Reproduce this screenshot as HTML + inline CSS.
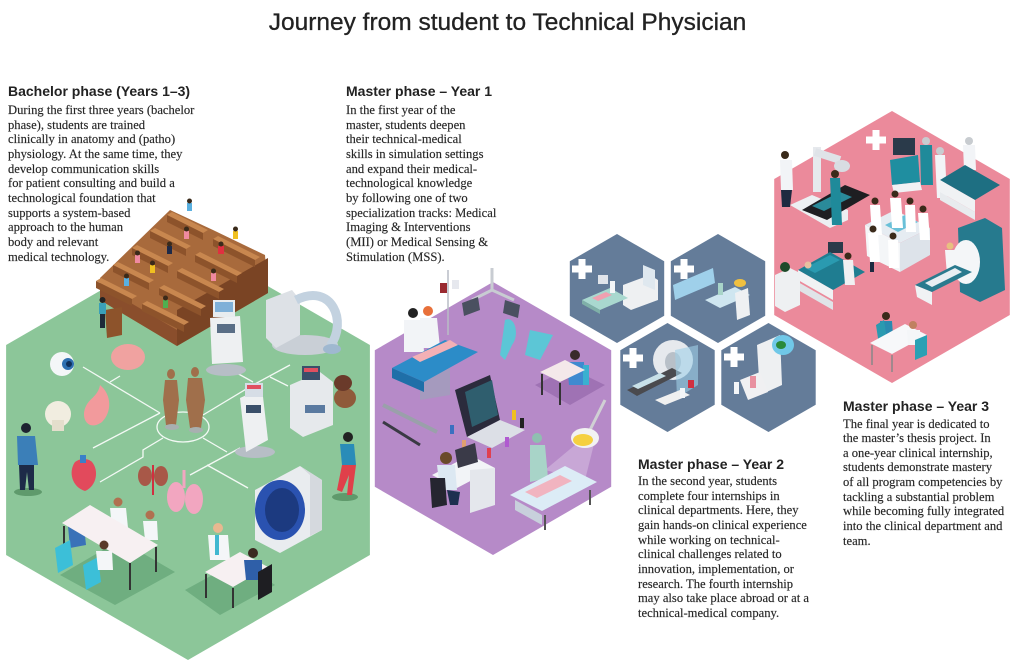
<!DOCTYPE html>
<html><head><meta charset="utf-8">
<style>
html,body{margin:0;padding:0;background:#fff;}
body{width:1024px;height:661px;position:relative;overflow:hidden;}
svg{position:absolute;left:0;top:0;}
.t{position:absolute;white-space:nowrap;}
.title{font-family:"Liberation Sans",sans-serif;font-size:24.5px;line-height:28px;color:#222;left:0;width:1015px;text-align:center;top:9px;-webkit-text-stroke:0.3px #222;}
.h{font-family:"Liberation Sans",sans-serif;font-weight:bold;font-size:14px;line-height:16px;color:#222;}
.p{font-family:"Liberation Serif",serif;font-size:12.6px;line-height:14.65px;color:#262626;-webkit-text-stroke:0.15px #262626;}
</style></head><body>
<svg width="1024" height="661" viewBox="0 0 1024 661" xmlns="http://www.w3.org/2000/svg">
<!-- hexagons -->
<polygon points="188,240 369.9,345 369.9,555 188,660 6.1,555 6.1,345" fill="#8cc699"/>
<polygon points="493,282 611.2,350.25 611.2,486.75 493,555 374.8,486.75 374.8,350.25" fill="#b68ac8"/>
<polygon points="617,234 664.2,261.25 664.2,315.75 617,343 569.8,315.75 569.8,261.25" fill="#647c99"/>
<polygon points="718,234 765.2,261.25 765.2,315.75 718,343 670.8,315.75 670.8,261.25" fill="#647c99"/>
<polygon points="667.5,323 714.7,350.25 714.7,404.75 667.5,432 620.3,404.75 620.3,350.25" fill="#647c99"/>
<polygon points="768.5,323 815.7,350.25 815.7,404.75 768.5,432 721.3,404.75 721.3,350.25" fill="#647c99"/>
<polygon points="892,111 1009.8,179 1009.8,315 892,383 774.2,315 774.2,179" fill="#eb8a9b"/>

<!-- ===== GREEN HEX CONTENT ===== -->
<g stroke="#ffffff" stroke-width="1.3" fill="none" opacity="0.9">
<polyline points="83,367 160,413"/>
<polyline points="110,382 120,376"/>
<polyline points="93,448 160,413"/>
<polyline points="100,482 143,457 143,450 163,438"/>
<polyline points="190,475 240,448"/>
<polyline points="203,438 227,452"/>
<polyline points="203,415 253,385 290,365"/>
<polyline points="235,372 253,382"/>
<polyline points="270,377 288,386"/>
<polyline points="207,465 248,488"/>
<ellipse cx="183" cy="427" rx="26" ry="15"/>
</g>
<!-- lecture hall -->
<polygon points="170,210 213,230 265,255 268,293 177,346 100,300 100,278" fill="#a86a3c"/>
<polygon points="177,310 268,258 268,293 177,346" fill="#7a4424"/>
<polygon points="100,285 177,330 177,346 100,300" fill="#8a4e2c"/>
<g>
<polygon points="172,212 208,230 203,233 167,215" fill="#c8874f"/><polygon points="167,215 203,233 203,240 167,222" fill="#8d532b"/>
<polygon points="155,228 191,246 186,249 150,231" fill="#c8874f"/><polygon points="150,231 186,249 186,256 150,238" fill="#8d532b"/>
<polygon points="137,245 173,263 168,266 132,248" fill="#c8874f"/><polygon points="132,248 168,266 168,273 132,255" fill="#8d532b"/>
<polygon points="118,262 154,280 149,283 113,265" fill="#c8874f"/><polygon points="113,265 149,283 149,290 113,272" fill="#8d532b"/>
<polygon points="101,278 137,296 132,299 96,281" fill="#c8874f"/><polygon points="96,281 132,299 132,306 96,288" fill="#8d532b"/>
<polygon points="218,236 260,257 255,260 213,239" fill="#c8874f"/><polygon points="213,239 255,260 255,267 213,246" fill="#8d532b"/>
<polygon points="200,252 242,273 237,276 195,255" fill="#c8874f"/><polygon points="195,255 237,276 237,283 195,262" fill="#8d532b"/>
<polygon points="182,268 224,289 219,292 177,271" fill="#c8874f"/><polygon points="177,271 219,292 219,299 177,278" fill="#8d532b"/>
<polygon points="164,285 206,306 201,309 159,288" fill="#c8874f"/><polygon points="159,288 201,309 201,316 159,295" fill="#8d532b"/>
<polygon points="147,301 189,322 184,325 142,304" fill="#c8874f"/><polygon points="142,304 184,325 184,332 142,311" fill="#8d532b"/>
</g>
<g>
<rect x="187" y="203" width="5" height="8" fill="#5ab0e0"/><circle cx="189.5" cy="201" r="2.5" fill="#3a2a1a"/>
<rect x="184" y="231" width="5" height="8" fill="#f08aa0"/><circle cx="186.5" cy="229" r="2.5" fill="#3a2a1a"/>
<rect x="167" y="246" width="5" height="8" fill="#1e2a48"/><circle cx="169.5" cy="244" r="2.5" fill="#3a2a1a"/>
<rect x="150" y="265" width="5" height="8" fill="#f0c020"/><circle cx="152.5" cy="263" r="2.5" fill="#3a2a1a"/>
<rect x="135" y="255" width="5" height="8" fill="#f08aa0"/><circle cx="137.5" cy="253" r="2.5" fill="#3a2a1a"/>
<rect x="124" y="278" width="5" height="8" fill="#5ab0e0"/><circle cx="126.5" cy="276" r="2.5" fill="#3a2a1a"/>
<rect x="163" y="300" width="5" height="8" fill="#50b050"/><circle cx="165.5" cy="298" r="2.5" fill="#3a2a1a"/>
<rect x="233" y="231" width="5" height="8" fill="#f0c020"/><circle cx="235.5" cy="229" r="2.5" fill="#3a2a1a"/>
<rect x="218" y="246" width="6" height="8" fill="#e03040"/><circle cx="221" cy="244" r="2.5" fill="#3a2a1a"/>
<rect x="211" y="273" width="5" height="8" fill="#f08aa0"/><circle cx="213.5" cy="271" r="2.5" fill="#3a2a1a"/>
</g>
<!-- lecturer -->
<polygon points="105,310 122,307 122,335 107,338" fill="#8d532b"/>
<rect x="99" y="303" width="7" height="11" fill="#3aa0b8"/><circle cx="102.5" cy="300" r="3" fill="#222"/>
<rect x="100" y="314" width="5" height="14" fill="#1e2a38"/>
<!-- C-arm -->
<ellipse cx="305" cy="345" rx="33" ry="10" fill="#c9cfd6"/>
<polygon points="266,300 292,290 300,300 300,335 276,348 266,338" fill="#dde1e6"/>
<path d="M296,300 C332,282 348,322 330,346" stroke="#c3d2e0" stroke-width="9" fill="none"/>
<ellipse cx="332" cy="349" rx="9" ry="5" fill="#9fb8d0"/>
<!-- ventilator -->
<ellipse cx="226" cy="370" rx="20" ry="6" fill="#b7bec6"/>
<polygon points="210,318 240,316 243,362 212,364" fill="#eef0f2"/>
<rect x="213" y="300" width="22" height="17" fill="#e8ecef"/>
<rect x="215" y="302" width="18" height="10" fill="#7fb0d8"/>
<rect x="217" y="324" width="18" height="9" fill="#5a6e86"/>
<!-- eye brain skull intestines -->
<circle cx="62" cy="364" r="12" fill="#f4f6f8"/><circle cx="68" cy="364" r="6" fill="#2e6fb0"/><circle cx="69" cy="364" r="3" fill="#10305a"/>
<ellipse cx="128" cy="357" rx="17" ry="13" fill="#f0a2a0"/>
<ellipse cx="58" cy="414" rx="13" ry="13" fill="#f1ede0"/><rect x="52" y="420" width="12" height="11" fill="#e4decc"/>
<path d="M100,385 C112,395 112,412 102,422 C88,432 80,418 86,406 C90,398 98,396 100,385Z" fill="#f29a9c"/>
<!-- figures -->
<g fill="#a06f4b">
<ellipse cx="171" cy="374" rx="4" ry="5"/><path d="M165,380 L177,380 L179,400 L176,425 L166,425 L163,400Z"/>
<ellipse cx="195" cy="372" rx="4" ry="5"/><path d="M188,378 L202,378 L205,400 L201,428 L190,428 L186,400Z"/>
</g>
<ellipse cx="172" cy="427" rx="7" ry="3" fill="#a8b0b0"/><ellipse cx="196" cy="430" rx="7" ry="3" fill="#a8b0b0"/>
<!-- heart kidneys lungs -->
<path d="M75,462 C68,472 72,487 85,491 C97,486 99,470 92,462 C88,458 80,458 75,462Z" fill="#e24a5c"/>
<rect x="80" y="455" width="6" height="8" fill="#3a80c8"/>
<ellipse cx="145" cy="476" rx="7" ry="10" fill="#a85848"/><ellipse cx="161" cy="476" rx="7" ry="10" fill="#a85848"/>
<line x1="153" y1="465" x2="153" y2="495" stroke="#d03040" stroke-width="2"/>
<ellipse cx="176" cy="497" rx="9" ry="15" fill="#f2a6c0"/><ellipse cx="194" cy="499" rx="9" ry="15" fill="#f2a6c0"/>
<line x1="184" y1="470" x2="184" y2="488" stroke="#f2a6c0" stroke-width="3"/>
<!-- monitor cart -->
<ellipse cx="255" cy="452" rx="20" ry="6" fill="#b7bec6"/>
<polygon points="240,398 262,388 268,440 246,452" fill="#eef0f2"/>
<rect x="245" y="383" width="18" height="14" fill="#d6dde6"/><rect x="247" y="385" width="14" height="4" fill="#e05060"/>
<rect x="246" y="405" width="15" height="8" fill="#3a4f6a"/>
<!-- rack and head -->
<polygon points="290,385 320,372 333,382 333,425 303,437 290,428" fill="#e6e9ec"/>
<rect x="302" y="366" width="18" height="14" fill="#3a4f6a"/><rect x="304" y="368" width="14" height="4" fill="#e05060"/>
<rect x="305" y="405" width="20" height="8" fill="#5a7aa0"/>
<ellipse cx="345" cy="398" rx="11" ry="10" fill="#8f5a3a"/><ellipse cx="343" cy="383" rx="9" ry="8" fill="#6a3a2a"/>
<!-- man left -->
<ellipse cx="28" cy="492" rx="14" ry="4" fill="#5f9a6c"/>
<circle cx="26" cy="428" r="5" fill="#1d2230"/>
<path d="M17,436 L35,436 L38,465 L18,465Z" fill="#3b7fb8"/>
<path d="M19,465 L34,465 L34,490 L29,490 L27,472 L25,490 L20,490Z" fill="#1d2b48"/>
<!-- woman right -->
<ellipse cx="345" cy="497" rx="13" ry="4" fill="#5f9a6c"/>
<circle cx="348" cy="437" r="5" fill="#222"/>
<path d="M340,444 L354,444 L356,465 L342,465Z" fill="#2a8cb8"/>
<path d="M342,465 L356,465 L352,495 L347,495 L349,475 L342,492 L337,490Z" fill="#e0404a"/>
<!-- MRI -->
<polygon points="255,490 300,466 322,480 322,530 280,553 255,540" fill="#e9ecef"/>
<polygon points="300,466 322,480 322,530 310,536 310,475" fill="#d5d9de"/>
<ellipse cx="280" cy="510" rx="25" ry="30" fill="#2a52b0"/>
<ellipse cx="282" cy="510" rx="17" ry="22" fill="#1c3a80"/>
<!-- meeting table -->
<polygon points="60,575 120,540 175,572 115,605" fill="#6fae80"/>
<circle cx="118" cy="502" r="4.5" fill="#b07050"/><path d="M110,508 L126,508 L128,528 L112,528Z" fill="#f4f6f8"/>
<circle cx="150" cy="515" r="4.5" fill="#b07050"/><path d="M143,521 L157,521 L158,540 L145,540Z" fill="#f4f6f8"/>
<circle cx="76" cy="520" r="5" fill="#222"/><path d="M68,526 L84,526 L86,545 L70,548Z" fill="#3a72b8"/>
<polygon points="62,523 90,505 158,545 130,563" fill="#f7f0f2"/>
<line x1="64" y1="526" x2="64" y2="546" stroke="#333" stroke-width="2"/><line x1="130" y1="563" x2="130" y2="590" stroke="#333" stroke-width="2"/><line x1="156" y1="547" x2="156" y2="572" stroke="#333" stroke-width="2"/>
<polygon points="55,548 70,540 73,565 58,573" fill="#3cbfd8"/>
<polygon points="83,565 98,557 101,582 86,590" fill="#3cbfd8"/>
<circle cx="104" cy="545" r="4.5" fill="#5a3a2a"/><path d="M96,551 L112,551 L113,570 L98,570Z" fill="#f4f6f8"/>
<!-- desk right -->
<polygon points="185,590 240,560 275,585 220,615" fill="#6fae80"/>
<circle cx="218" cy="528" r="5" fill="#e8b890"/><path d="M208,535 L228,535 L230,560 L210,560Z" fill="#f4f6f8"/><rect x="215" y="535" width="4" height="20" fill="#40b8d0"/>
<polygon points="205,572 240,552 268,567 233,587" fill="#f7f0f2"/>
<line x1="206" y1="574" x2="206" y2="598" stroke="#333" stroke-width="2"/><line x1="233" y1="588" x2="233" y2="608" stroke="#333" stroke-width="2"/>
<circle cx="253" cy="553" r="5" fill="#3a2a20"/><path d="M244,560 L262,560 L262,580 L246,580Z" fill="#2f5fa8"/>
<polygon points="258,572 272,564 272,592 258,600" fill="#1e1e22"/>

<!-- ===== PURPLE HEX CONTENT ===== -->
<line x1="448" y1="270" x2="448" y2="335" stroke="#b8bcc6" stroke-width="1.5"/>
<rect x="440" y="283" width="7" height="10" fill="#9a2a30"/><rect x="452" y="280" width="7" height="9" fill="#e6e8ee"/>
<line x1="492" y1="268" x2="492" y2="290" stroke="#c8ccd2" stroke-width="3"/>
<polyline points="472,300 492,290 514,300" stroke="#c8ccd2" stroke-width="3" fill="none"/>
<polygon points="462,303 478,297 480,310 464,316" fill="#4a5060"/>
<polygon points="505,300 520,305 518,318 503,313" fill="#4a5060"/>
<circle cx="413" cy="313" r="5" fill="#222"/><path d="M404,320 L422,320 L424,352 L404,352Z" fill="#f2f4f7"/>
<circle cx="428" cy="311" r="5" fill="#e8703a"/><path d="M420,318 L437,318 L440,348 L421,348Z" fill="#f2f4f7"/>
<polygon points="420,382 450,368 450,395 420,400" fill="#9aa5b8" opacity=".6"/>
<polygon points="392,368 445,340 478,352 424,382" fill="#2c8cc8"/>
<polygon points="392,368 424,382 424,392 392,378" fill="#1f6fa8"/>
<polygon points="412,357 450,340 458,345 420,362" fill="#f3b0b5"/>
<path d="M505,320 C515,315 520,335 512,345 L505,360 L500,355 Z" fill="#5cc6d6"/>
<path d="M530,330 L553,335 L540,360 L525,355Z" fill="#5cc6d6"/>
<polygon points="535,385 570,368 605,385 570,405" fill="#9f72b4"/>
<circle cx="575" cy="355" r="5" fill="#3a2a2a"/><path d="M567,362 L584,362 L585,385 L569,385Z" fill="#3f8ad0"/>
<rect x="583" y="365" width="6" height="20" fill="#3ab0d0"/>
<polygon points="540,372 565,360 585,370 560,382" fill="#f4e8ea"/>
<line x1="542" y1="374" x2="542" y2="395" stroke="#333" stroke-width="2"/><line x1="560" y1="383" x2="560" y2="405" stroke="#333" stroke-width="2"/>
<polygon points="455,390 490,375 500,420 467,437" fill="#2b2b3c"/>
<polygon points="465,392 492,380 498,415 472,427" fill="#2f5e6e"/>
<polygon points="467,437 500,420 525,430 492,448" fill="#dcdfe6"/>
<g><rect x="450" y="425" width="4" height="9" fill="#3a70c0"/><rect x="512" y="410" width="4" height="10" fill="#f0c020"/><rect x="520" y="418" width="4" height="10" fill="#222"/><rect x="487" y="448" width="4" height="10" fill="#e04050"/><rect x="505" y="437" width="4" height="10" fill="#b05ad0"/><rect x="462" y="440" width="4" height="9" fill="#e0a070"/></g>
<line x1="383" y1="405" x2="437" y2="432" stroke="#9aa0aa" stroke-width="4"/>
<line x1="383" y1="422" x2="420" y2="445" stroke="#3a3a44" stroke-width="3"/>
<polygon points="432,475 470,455 495,468 457,488" fill="#f2f4f7"/>
<polygon points="470,470 495,468 495,505 470,513" fill="#e4e7ec"/>
<polygon points="455,450 475,443 478,462 458,468" fill="#3a3a48"/>
<circle cx="446" cy="458" r="6" fill="#6a4a2a"/><path d="M437,465 L455,465 L457,490 L440,490Z" fill="#dce8f2"/>
<polygon points="430,478 445,478 447,505 432,508" fill="#252530"/>
<path d="M447,490 L460,492 L458,505 L450,505Z" fill="#1e3050"/>
<polygon points="575,445 595,440 585,480 545,470" fill="#ffffff" opacity=".25"/>
<circle cx="537" cy="438" r="5" fill="#8fbfb0"/><path d="M530,445 L545,445 L548,478 L530,482Z" fill="#a8d4c8"/>
<polygon points="515,500 542,515 542,525 515,510" fill="#c8d0dc"/>
<polygon points="510,495 565,466 597,482 542,511" fill="#dcecf6"/>
<polygon points="525,492 560,475 572,481 537,498" fill="#f1b4c0"/>
<line x1="545" y1="515" x2="545" y2="530" stroke="#555" stroke-width="2"/><line x1="590" y1="490" x2="590" y2="505" stroke="#555" stroke-width="2"/>
<line x1="605" y1="400" x2="590" y2="430" stroke="#d0d0d4" stroke-width="3"/>
<ellipse cx="585" cy="438" rx="14" ry="10" fill="#f2f2f2"/><ellipse cx="583" cy="440" rx="10" ry="6" fill="#f5d040"/>

<!-- ===== SLATE HEX CONTENT ===== -->
<g fill="#ffffff">
<path d="M578.5,259h7v6.5h6.5v7h-6.5v6.5h-7v-6.5h-6.5v-7h6.5z"/>
<path d="M680.5,259h7v6.5h6.5v7h-6.5v6.5h-7v-6.5h-6.5v-7h6.5z"/>
<path d="M629.5,348h7v6.5h6.5v7h-6.5v6.5h-7v-6.5h-6.5v-7h6.5z"/>
<path d="M730.5,347h7v6.5h6.5v7h-6.5v6.5h-7v-6.5h-6.5v-7h6.5z"/>
</g>
<!-- H1 -->
<polygon points="623,285 650,275 658,280 658,300 631,310 623,305" fill="#eef0f2"/>
<polygon points="643,265 655,270 655,290 643,285" fill="#dfe8ef"/>
<rect x="598" y="275" width="10" height="9" fill="#e0e4ea"/>
<polygon points="582,300 610,288 628,298 600,310" fill="#a9d8cf"/>
<polygon points="582,300 600,310 600,314 582,304" fill="#7fb0a8"/>
<polygon points="592,298 606,292 612,295 598,301" fill="#f0a0b0"/>
<rect x="610" y="281" width="5" height="12" fill="#f4f6f8"/>
<!-- H2 -->
<polygon points="673,285 713,268 715,283 675,300" fill="#9fd0ea"/>
<polygon points="705,300 735,287 750,295 720,308" fill="#cfe6f0"/>
<polygon points="735,293 748,288 750,315 737,320" fill="#eef0f2"/>
<ellipse cx="740" cy="283" rx="6" ry="4" fill="#f0c040"/>
<rect x="718" y="283" width="5" height="12" fill="#a8d4c8"/>
<!-- H3 -->
<ellipse cx="673" cy="360" rx="20" ry="20" fill="#e6e9ed"/>
<ellipse cx="673" cy="362" rx="8" ry="10" fill="#b8c0c8"/>
<polygon points="627,390 672,368 682,373 637,396" fill="#4a4a4e"/>
<polygon points="632,386 660,373 666,376 638,389" fill="#c8e0e8"/>
<polygon points="675,350 698,345 698,385 677,398" fill="#a0d0e8" opacity=".6"/>
<polygon points="655,400 680,390 690,395 665,405" fill="#f0f0f0"/>
<rect x="680" y="388" width="5" height="10" fill="#f4f6f8"/>
<rect x="688" y="380" width="6" height="8" fill="#d03040"/>
<!-- H4 -->
<polygon points="757,345 780,335 782,385 760,395" fill="#eef0f2"/>
<ellipse cx="783" cy="345" rx="11" ry="10" fill="#70c8e8"/>
<ellipse cx="781" cy="345" rx="5" ry="4" fill="#2a8a3a"/>
<polygon points="740,380 760,372 768,392 748,400" fill="#f0f0f2"/>
<rect x="750" y="376" width="6" height="12" fill="#e890a0"/>
<rect x="734" y="382" width="5" height="12" fill="#f4f6f8"/>

<!-- ===== PINK HEX CONTENT ===== -->
<path fill="#ffffff" d="M872.5,130h7v6.5h6.5v7h-6.5v6.5h-7v-6.5h-6.5v-7h6.5z"/>
<circle cx="785" cy="155" r="4" fill="#3a2a1a"/>
<path d="M780,160 L792,160 L793,190 L781,190Z" fill="#f2f4f7"/>
<path d="M781,190 L792,190 L790,207 L782,207Z" fill="#1e2a40"/>
<rect x="813" y="147" width="8" height="45" fill="#e6e9ed"/>
<path d="M815,152 L840,160" stroke="#dfe3e8" stroke-width="8"/>
<ellipse cx="842" cy="166" rx="8" ry="6" fill="#d8dde2"/>
<polygon points="790,205 830,228 848,220 848,210 812,195" fill="#eceff2"/>
<polygon points="802,210 845,185 870,195 827,220" fill="#1e1e22"/>
<polygon points="812,206 840,192 852,197 824,211" fill="#2a8a9a"/>
<path d="M830,178 L840,178 L842,225 L832,225Z" fill="#1f8a9a"/><circle cx="835" cy="174" r="4" fill="#3a2a1a"/>
<rect x="893" y="138" width="22" height="17" fill="#2a3a4a"/>
<polygon points="890,160 918,155 920,182 892,185" fill="#1f8ea0"/>
<polygon points="892,185 920,182 922,190 894,193" fill="#f0f2f4"/>
<path d="M920,145 L932,145 L933,185 L921,185Z" fill="#1f8a9a"/><circle cx="926" cy="141" r="4" fill="#c8ccd0"/>
<path d="M935,155 L945,155 L947,198 L937,198Z" fill="#f2f4f7"/><circle cx="940" cy="151" r="4" fill="#c8ccd0"/>
<path d="M963,145 L975,145 L976,170 L964,170Z" fill="#f2f4f7"/><circle cx="969" cy="141" r="4" fill="#c8ccd0"/>
<polygon points="940,192 975,212 975,220 940,200" fill="#e8ebee"/>
<polygon points="940,180 965,165 1000,185 975,200" fill="#1e6f82"/>
<polygon points="940,180 975,200 975,212 940,192" fill="#f0f2f4"/>
<!-- center group -->
<polygon points="865,225 900,243 900,272 867,256" fill="#f4f6f8"/>
<polygon points="865,225 895,210 930,228 900,243" fill="#e6ecf2"/>
<polygon points="885,225 905,215 918,222 898,232" fill="#6ac0d8"/>
<polygon points="900,243 930,228 930,255 900,272" fill="#dde3ea"/>
<g fill="#ffffff">
<path d="M870,205 L880,205 L882,235 L872,235Z"/><path d="M890,198 L901,198 L903,228 L892,228Z"/><path d="M905,205 L915,205 L916,232 L906,232Z"/><path d="M918,213 L928,213 L930,240 L920,240Z"/><path d="M868,233 L878,233 L880,262 L870,262Z"/><path d="M888,240 L898,240 L899,268 L889,268Z"/>
</g>
<g fill="#3a2a1a"><circle cx="875" cy="201" r="3.5"/><circle cx="895" cy="194" r="3.5"/><circle cx="910" cy="201" r="3.5"/><circle cx="923" cy="209" r="3.5"/><circle cx="873" cy="229" r="3.5"/><circle cx="893" cy="236" r="3.5"/></g>
<rect x="870" y="262" width="4" height="10" fill="#1e2a40"/>
<!-- bed left -->
<rect x="828" y="242" width="15" height="11" fill="#2a3a4a"/>
<polygon points="798,282 833,302 833,310 798,290" fill="#e0e4e8"/>
<polygon points="798,270 830,252 865,272 833,290" fill="#1f7d91"/>
<polygon points="798,270 833,290 833,300 798,280" fill="#f0f2f4"/>
<polygon points="805,268 830,255 840,260 815,273" fill="#2a9ab0"/>
<circle cx="808" cy="265" r="3.5" fill="#e8c0a0"/>
<path d="M843,260 L853,260 L855,285 L845,285Z" fill="#f0f0f2"/><circle cx="848" cy="256" r="3.5" fill="#3a2a1a"/>
<polygon points="775,275 790,268 800,273 800,305 785,312 775,306" fill="#eef0f2"/>
<circle cx="785" cy="267" r="5" fill="#1e4a2a"/>
<!-- MRI right -->
<polygon points="958,228 985,218 1002,228 1005,290 980,302 960,292" fill="#267a8e"/>
<ellipse cx="966" cy="262" rx="14" ry="22" fill="#f4f6f8"/>
<path d="M945,250 L955,250 L957,275 L947,275Z" fill="#f4f6f8"/><circle cx="950" cy="246" r="3.5" fill="#e8c080"/>
<polygon points="915,285 932,292 932,305 917,297" fill="#f0f2f4"/>
<polygon points="915,285 955,265 972,272 932,292" fill="#2a7a8e"/>
<polygon points="925,283 955,268 962,272 932,287" fill="#e8eef2"/>
<!-- table bottom -->
<circle cx="886" cy="316" r="4" fill="#3a2a1a"/><path d="M880,321 L892,321 L893,335 L881,335Z" fill="#2a8ab0"/>
<polygon points="876,325 884,320 887,340 879,345" fill="#2a9ab0"/>
<polygon points="870,343 905,324 927,335 892,354" fill="#f7f8fa"/>
<line x1="872" y1="345" x2="872" y2="365" stroke="#888" stroke-width="1.5"/><line x1="892" y1="355" x2="892" y2="372" stroke="#888" stroke-width="1.5"/><line x1="925" y1="337" x2="925" y2="355" stroke="#888" stroke-width="1.5"/>
<circle cx="913" cy="325" r="4" fill="#c08060"/><path d="M907,330 L920,330 L920,345 L908,345Z" fill="#f4f6f8"/>
<polygon points="915,340 927,335 927,355 915,360" fill="#2aa0b4"/>
</svg>

<div class="t title">Journey from student to Technical Physician</div>

<div class="t h" style="left:8px;top:83px;">Bachelor phase (Years 1–3)</div>
<div class="t p" style="left:8px;top:103px;">During the first three years (bachelor<br>phase), students are trained<br>clinically in anatomy and (patho)<br>physiology. At the same time, they<br>develop communication skills<br>for patient consulting and build a<br>technological foundation that<br>supports a system-based<br>approach to the human<br>body and relevant<br>medical technology.</div>

<div class="t h" style="left:346px;top:83px;">Master phase – Year 1</div>
<div class="t p" style="left:346px;top:103px;">In the first year of the<br>master, students deepen<br>their technical-medical<br>skills in simulation settings<br>and expand their medical-<br>technological knowledge<br>by following one of two<br>specialization tracks: Medical<br>Imaging &amp; Interventions<br>(MII) or Medical Sensing &amp;<br>Stimulation (MSS).</div>

<div class="t h" style="left:638px;top:455.5px;">Master phase – Year 2</div>
<div class="t p" style="left:638px;top:474px;">In the second year, students<br>complete four internships in<br>clinical departments. Here, they<br>gain hands-on clinical experience<br>while working on technical-<br>clinical challenges related to<br>innovation, implementation, or<br>research. The fourth internship<br>may also take place abroad or at a<br>technical-medical company.</div>

<div class="t h" style="left:843px;top:397.5px;">Master phase – Year 3</div>
<div class="t p" style="left:843px;top:416.5px;">The final year is dedicated to<br>the master’s thesis project. In<br>a one-year clinical internship,<br>students demonstrate mastery<br>of all program competencies by<br>tackling a substantial problem<br>while becoming fully integrated<br>into the clinical department and<br>team.</div>
</body></html>
